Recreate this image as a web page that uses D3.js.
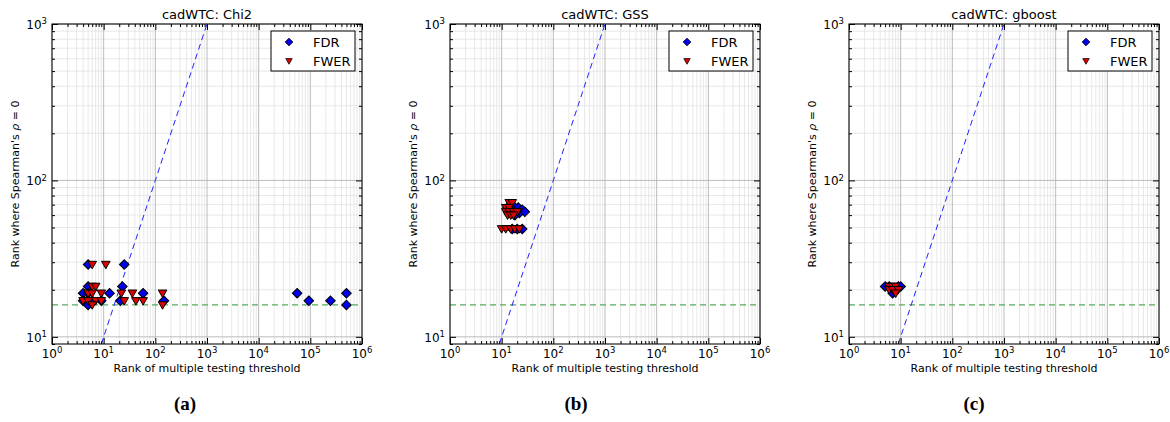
<!DOCTYPE html>
<html>
<head>
<meta charset="utf-8">
<script src="https://cdn.jsdelivr.net/npm/d3@7"></script>
<style>
  body { margin: 0; background: #fff; }
  text { font-family: "DejaVu Sans", sans-serif; }
</style>
</head>
<body>
<div id="chart"></div>
<script>
'use strict';

// panel titles and captions
var titles = ['cadWTC: Chi2', 'cadWTC: GSS', 'cadWTC: gboost'];
var captions = ['(a)', '(b)', '(c)'];

// [rank of threshold, rank where rho = 0]
var chi2Fdr = [[5,29],[25,29],[5,21],[23,21],[4,19],[5,19],[13,19],[58,19],[4,17],[6,17],[9,17],[21,17],[147,17],[5,16],
	[55600,19],[93500,17],[245000,17],[500000,19],[500000,16]];
var chi2Fwer = [[6,29],[11,29],[6,21],[7,21],[5,19],[6,19],[9,19],[22,19],[36,19],[138,19],[4,17],[5,17],[7,17],[9,17],
	[25,17],[42,17],[58,17],[138,16],[6,16]];

var gssFdr = [[16,70],[13,67],[21,67],[25,65],[22,62],[28,63],[18,60],[15,62],[16,49],[20,49],[25,49]];
var gssFwer = [[14,72],[16,72],[12,67],[14,67],[12,63],[14,63],[17,63],[20,63],[13,60],[15,60],[17,60],
	[10,49],[12,49],[15,49],[18,49],[22,49]];

var gboostFdr = [[5,21],[6,21],[9,21],[10,21],[7,19],[8,20]];
var gboostFwer = [[6,21],[7,21],[8,21],[6,20],[7,20],[9,20],[8,19]];

var xTickExps = [0, 1, 2, 3, 4, 5, 6];
var yTickExps = [1, 2, 3];
var refLineY = 16;

var seriesNames = ['FDR', 'FWER'];
var panels = [
	{ fdr: chi2Fdr, fwer: chi2Fwer },
	{ fdr: gssFdr, fwer: gssFwer },
	{ fdr: gboostFdr, fwer: gboostFwer }
];

var W = 1170, H = 422;
var lefts = [52, 450, 849];
var plotTop = 24, width = 310, height = 320;
var captionX = [185, 576, 974];

var svg = d3.select('#chart').append('svg')
	.attr('width', W)
	.attr('height', H);

var diamond = d3.symbol().type(d3.symbolSquare).size(46);
var tri = 'M-4.3,-3.2L4.3,-3.2L0,4.3Z';

function supLabel(sel, exp) {
	sel.text(null);
	sel.append('tspan').text('10');
	sel.append('tspan')
		.attr('dy', '-0.55em')
		.attr('font-size', '8.5px')
		.text(exp);
}

panels.forEach(function(p, i){

	var g = svg.append('g')
		.attr('transform', 'translate(' + lefts[i] + ',' + plotTop + ')');

	var x = d3.scaleLog().domain([1, 1e6]).range([0, width]);
	var y = d3.scaleLog().domain([9, 1000]).range([height, 0]);

	var xMinor = [], yMinor = [];
	xTickExps.slice(0, -1).forEach(function(e){
		for (var k = 2; k < 10; k++) xMinor.push(k * Math.pow(10, e));
	});
	[0, 1, 2].forEach(function(e){
		for (var k = 2; k < 10; k++) {
			var v = k * Math.pow(10, e);
			if (v >= 9 && v <= 1000) yMinor.push(v);
		}
	});
	var xMajor = xTickExps.map(function(e){ return Math.pow(10, e); });
	var yMajor = yTickExps.map(function(e){ return Math.pow(10, e); });

	var clipId = 'clip' + i;
	g.append('clipPath').attr('id', clipId)
		.append('rect').attr('width', width).attr('height', height);

	// grid
	var grid = g.append('g').attr('class', 'grid');
	grid.selectAll('line.xminor').data(xMinor).enter().append('line')
		.attr('x1', x).attr('x2', x).attr('y1', 0).attr('y2', height)
		.attr('stroke', '#e2e2e2').attr('stroke-width', 0.8);
	grid.selectAll('line.yminor').data(yMinor).enter().append('line')
		.attr('y1', y).attr('y2', y).attr('x1', 0).attr('x2', width)
		.attr('stroke', '#e2e2e2').attr('stroke-width', 0.8);
	grid.selectAll('line.xmajor').data(xMajor).enter().append('line')
		.attr('x1', x).attr('x2', x).attr('y1', 0).attr('y2', height)
		.attr('stroke', '#b4b4b4').attr('stroke-width', 0.9);
	grid.selectAll('line.ymajor').data(yMajor).enter().append('line')
		.attr('y1', y).attr('y2', y).attr('x1', 0).attr('x2', width)
		.attr('stroke', '#b4b4b4').attr('stroke-width', 0.9);

	// reference lines
	var ref = g.append('g').attr('clip-path', 'url(#' + clipId + ')');
	ref.append('line')
		.attr('x1', x(1)).attr('x2', x(1e6))
		.attr('y1', y(refLineY)).attr('y2', y(refLineY))
		.attr('stroke', '#5aaa5a').attr('stroke-width', 1.3)
		.attr('stroke-dasharray', '6,4');
	ref.append('line')
		.attr('x1', x(9)).attr('y1', y(9))
		.attr('x2', x(1000)).attr('y2', y(1000))
		.attr('stroke', '#2222ff').attr('stroke-width', 1)
		.attr('stroke-dasharray', '6,4');

	// points
	var pts = g.append('g').attr('clip-path', 'url(#' + clipId + ')');
	pts.selectAll('path.fdr').data(p.fdr).enter().append('path')
		.attr('class', 'fdr')
		.attr('d', diamond())
		.attr('transform', function(d){ return 'translate(' + x(d[0]) + ',' + y(d[1]) + ') rotate(45)'; })
		.attr('fill', '#0000ee').attr('stroke', '#000').attr('stroke-width', 1);
	pts.selectAll('path.fwer').data(p.fwer).enter().append('path')
		.attr('class', 'fwer')
		.attr('d', tri)
		.attr('transform', function(d){ return 'translate(' + x(d[0]) + ',' + y(d[1]) + ')'; })
		.attr('fill', '#dd0000').attr('stroke', '#000').attr('stroke-width', 1);

	// ticks (inward, all four sides)
	function tickAxis(axisFn, scale, values, size, tr) {
		var a = g.append('g').attr('transform', tr)
			.call(axisFn(scale).tickValues(values).tickSize(size).tickFormat(''));
		a.select('.domain').remove();
		a.selectAll('line').attr('stroke', '#000');
		return a;
	}
	tickAxis(d3.axisBottom, x, xMajor, -6, 'translate(0,' + height + ')');
	tickAxis(d3.axisBottom, x, xMinor, -3, 'translate(0,' + height + ')');
	tickAxis(d3.axisTop, x, xMajor, -6, 'translate(0,0)');
	tickAxis(d3.axisTop, x, xMinor, -3, 'translate(0,0)');
	tickAxis(d3.axisLeft, y, yMajor, -6, 'translate(0,0)');
	tickAxis(d3.axisLeft, y, yMinor, -3, 'translate(0,0)');
	tickAxis(d3.axisRight, y, yMajor, -6, 'translate(' + width + ',0)');
	tickAxis(d3.axisRight, y, yMinor, -3, 'translate(' + width + ',0)');

	// frame
	g.append('rect')
		.attr('width', width).attr('height', height)
		.attr('fill', 'none').attr('stroke', '#000').attr('stroke-width', 1);

	// tick labels
	g.selectAll('text.xl').data(xTickExps).enter().append('text')
		.attr('class', 'xl')
		.attr('x', function(e){ return x(Math.pow(10, e)); })
		.attr('y', height + 14)
		.attr('text-anchor', 'middle')
		.attr('font-size', '12px')
		.each(function(e){ supLabel(d3.select(this), e); });
	g.selectAll('text.yl').data(yTickExps).enter().append('text')
		.attr('class', 'yl')
		.attr('x', -5)
		.attr('y', function(e){ return y(Math.pow(10, e)) + 5; })
		.attr('text-anchor', 'end')
		.attr('font-size', '12px')
		.each(function(e){ supLabel(d3.select(this), e); });

	// title and axis labels
	g.append('text')
		.attr('x', width / 2).attr('y', -5)
		.attr('text-anchor', 'middle')
		.attr('font-size', '13px')
		.text(titles[i]);
	g.append('text')
		.attr('x', width / 2).attr('y', height + 28)
		.attr('text-anchor', 'middle')
		.attr('font-size', '11px')
		.text('Rank of multiple testing threshold');
	var yl = g.append('text')
		.attr('transform', 'translate(-33,' + (height / 2) + ') rotate(-90)')
		.attr('text-anchor', 'middle')
		.attr('font-size', '11px');
	yl.append('tspan').text("Rank where Spearman's ");
	yl.append('tspan').attr('font-style', 'italic').text('ρ');
	yl.append('tspan').text(' = 0');

	// legend
	var lg = g.append('g').attr('transform', 'translate(' + (width - 91) + ',7)');
	lg.append('rect')
		.attr('width', 84).attr('height', 40)
		.attr('fill', '#fff').attr('stroke', '#000').attr('stroke-width', 1);
	var item = lg.selectAll('g.item').data(seriesNames).enter().append('g')
		.attr('class', 'item')
		.attr('transform', function(d, j){ return 'translate(0,' + (11 + j * 19) + ')'; });
	item.append('path')
		.attr('d', function(d){ return d === 'FDR' ? diamond() : tri; })
		.attr('transform', function(d){ return d === 'FDR' ? 'translate(18,0) rotate(45) scale(0.8)' : 'translate(18,0) scale(0.75)'; })
		.attr('fill', function(d){ return d === 'FDR' ? '#0000ee' : '#dd0000'; })
		.attr('stroke', '#000').attr('stroke-width', 1);
	item.append('text')
		.attr('x', 42).attr('y', 5)
		.attr('font-size', '13px')
		.text(function(d){ return d; });

	// caption
	svg.append('text')
		.attr('x', captionX[i]).attr('y', 410)
		.attr('text-anchor', 'middle')
		.style('font-family', '"Liberation Serif", "DejaVu Serif", serif')
		.attr('font-weight', 'bold')
		.attr('font-size', '19px')
		.text(captions[i]);
});
</script>
</body>
</html>
